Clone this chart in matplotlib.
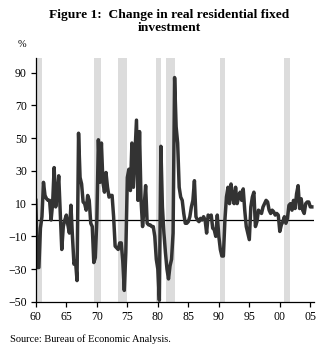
import numpy as np
import matplotlib
matplotlib.use("Agg")
import matplotlib.pyplot as plt

# quarterly % change (annualised), 1960Q1 .. 2005Q2
first_year = 1960
pct_change = [
    12, -29, -29, -5,    # 1960
    2, 23, 15, 13,       # 1961
    12, 12, 0, 10,       # 1962
    32, 8, 15, 27,       # 1963
    4, -18, -4, 0,       # 1964
    3, -3, -8, 9,        # 1965
    -10, -27, -25, -37,  # 1966
    53, 26, 22, 11,      # 1967
    10, 6, 15, 12,       # 1968
    -2, -4, -26, -23,    # 1969
    0, 49, 23, 47,       # 1970
    23, 17, 29, 20,      # 1971
    14, 15, 15, 2,       # 1972
    -16, -17, -18, -14,  # 1973
    -14, -25, -43, -20,  # 1974
    26, 31, 18, 47,      # 1975
    20, 40, 61, 12,      # 1976
    54, 12, -4, 8,       # 1977
    21, -2, -3, -3,      # 1978
    -4, -4, -10, -24,    # 1979
    -30, -49, 45, 8,     # 1980
    -8, -20, -30, -36,   # 1981
    -28, -24, -8, 87,    # 1982
    57, 47, 20, 14,      # 1983
    12, 4, -2, -2,       # 1984
    -1, 2, 8, 12,        # 1985
    24, 2, 0, -1,        # 1986
    1, 0, 2, 0,          # 1987
    -8, 3, 2, 3,         # 1988
    -5, -6, -10, 3,      # 1989
    -10, -18, -22, -22,  # 1990
    0, 14, 20, 10,       # 1991
    22, 14, 10, 20,      # 1992
    10, 14, 17, 12,      # 1993
    19, 6, -4, -8,       # 1994
    -12, 8, 14, 17,      # 1995
    -4, -1, 6, 5,        # 1996
    4, 8, 10, 12,        # 1997
    11, 6, 4, 6,         # 1998
    5, 3, 4, 3,          # 1999
    -7, -3, -1, 2,       # 2000
    -2, 1, 9, 10,        # 2001
    6, 12, 7, 16,        # 2002
    21, 7, 13, 6,        # 2003
    4, 10, 11, 11,       # 2004
    8, 8,                # 2005
]

# shaded recession periods (decimal years)
recessions = [
    (1960.05, 1960.95),
    (1969.6, 1970.75),
    (1973.5, 1974.95),
    (1979.7, 1980.6),
    (1981.35, 1982.75),
    (1990.2, 1991.0),
    (2000.7, 2001.7),
]

x_ticks = [1960, 1965, 1970, 1975, 1980, 1985, 1990, 1995, 2000, 2005]
x_labels = ["60", "65", "70", "75", "80", "85", "90", "95", "00", "05"]
y_ticks = [-50, -30, -10, 10, 30, 50, 70, 90]


def main():
    plt.rcParams["font.family"] = ["Liberation Serif", "DejaVu Serif"]

    t = first_year + np.arange(len(pct_change)) / 4.0

    fig = plt.figure(figsize=(3.23, 3.51), dpi=100)
    ax = fig.add_axes([0.111, 0.14, 0.861, 0.695])

    for start, end in recessions:
        ax.axvspan(start, end, color="#dcdcdc", lw=0, zorder=0)

    ax.axhline(0, color="black", lw=0.9, zorder=1)
    ax.plot(t, pct_change, color="#333333", lw=2.5, solid_joinstyle="round", zorder=2)

    ax.set_xlim(1960, 2005.6)
    ax.set_ylim(-50, 99)
    ax.set_xticks(x_ticks)
    ax.set_xticklabels(x_labels)
    ax.set_yticks(y_ticks)

    for side in ["top", "right"]:
        ax.spines[side].set_visible(False)
    for side in ["left", "bottom"]:
        ax.spines[side].set_linewidth(0.9)
    ax.tick_params(axis="both", direction="out", length=3.5, width=0.9, labelsize=8.5, pad=3)

    fig.text(0.523, 0.975, "Figure 1:  Change in real residential fixed\ninvestment",
             ha="center", va="top", fontsize=9.7, fontweight="bold", linespacing=1.1)
    fig.text(0.068, 0.86, "%", ha="center", va="bottom", fontsize=7.5)
    fig.text(0.03, 0.02, "Source: Bureau of Economic Analysis.", ha="left", va="bottom", fontsize=7.5)

    fig.savefig("out.png", dpi=100)
    plt.close(fig)


if __name__ == "__main__":
    main()
